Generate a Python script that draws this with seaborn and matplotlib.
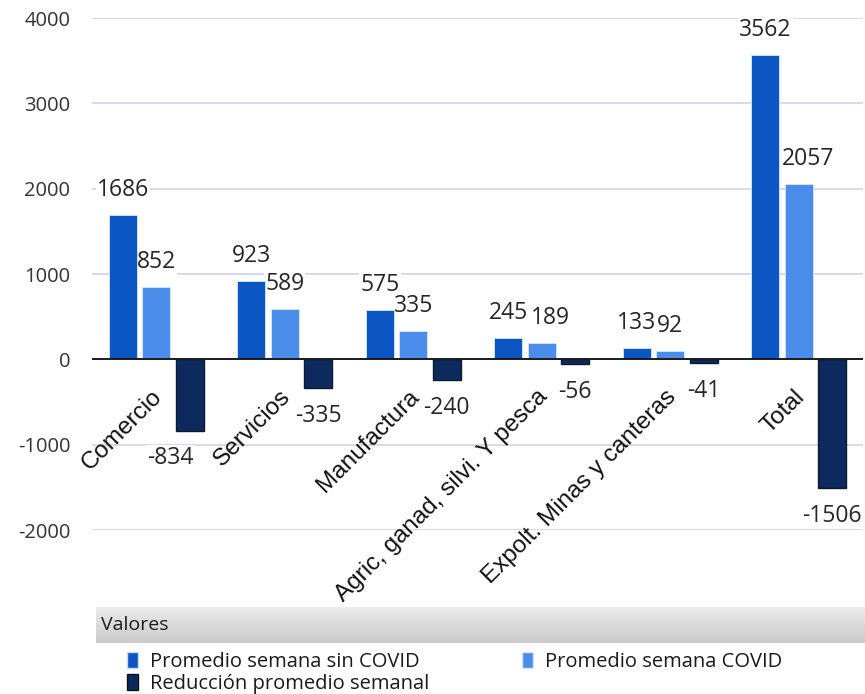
import numpy as np
import pandas as pd
import matplotlib
matplotlib.use("Agg")
import matplotlib.pyplot as plt
import seaborn as sns
from matplotlib.patches import Patch

categories = ["Comercio", "Servicios", "Manufactura",
              "Agric, ganad, silvi. Y pesca", "Expolt. Minas y canteras", "Total"]
series_names = ["Promedio semana sin COVID", "Promedio semana COVID",
                "Reducción promedio semanal"]
sin_covid = [1686, 923, 575, 245, 133, 3562]
con_covid = [852, 589, 335, 189, 92, 2057]
reduccion = [-834, -335, -240, -56, -41, -1506]
y_ticks = [-2000, -1000, 0, 1000, 2000, 3000, 4000]

colors = ["#0B56C2", "#4A8DEB", "#0C2A5E"]

df = pd.DataFrame({
    "cat": categories * 3,
    "serie": [s for s in series_names for _ in categories],
    "valor": sin_covid + con_covid + reduccion,
})

sns.set_theme(style="white")
plt.rcParams["font.family"] = ["Open Sans", "DejaVu Sans"]

fig = plt.figure(figsize=(8.65, 6.94), dpi=100)
ax = fig.add_axes([92 / 865, 1 - 530 / 694, 771 / 865, 512 / 694])

sns.barplot(data=df, x="cat", y="valor", hue="serie", hue_order=series_names,
            order=categories, palette=colors, width=0.78, gap=0.16,
            saturation=1, legend=False, ax=ax)

# edges: navy bars get a dark outline, others a faint one
for i, cont in enumerate(ax.containers):
    for bar in cont:
        bar.set_zorder(2)
        if i == 2:
            bar.set_edgecolor("#111a2a")
            bar.set_linewidth(1.0)
        else:
            bar.set_edgecolor("#dbe6f5")
            bar.set_linewidth(0.6)

ax.set_ylim(-2000, 4000)
ax.set_yticks(y_ticks)
ax.set_yticklabels([str(t) for t in y_ticks], fontsize=14.5, color="#333333")
ax.tick_params(axis="y", length=0, pad=15.5)
ax.set_xlabel("")
ax.set_ylabel("")
ax.set_xticks([])
for s in ax.spines.values():
    s.set_visible(False)
for t in y_ticks:
    if t != 0:
        ax.axhline(t, color="#d8d8ee", lw=1.4, zorder=0)
ax.axhline(0, color="#1a1a1a", lw=1.4, zorder=3)

# category labels hanging from the zero line
for i, c in enumerate(categories):
    ax.annotate(c, xy=(i, 0), xytext=(-4, -19), textcoords="offset points",
                rotation=45, ha="right", va="top", rotation_mode="anchor",
                fontsize=17.5, family=["Liberation Sans", "DejaVu Sans"],
                color="#111111", annotation_clip=False)

# value labels; a few are shifted sideways so they clear their neighbours
label_shift = {(1, 3): 6, (1, 5): 7, (2, 0): -14}
for i, cont in enumerate(ax.containers):
    vals = [sin_covid, con_covid, reduccion][i]
    for j, (bar, v) in enumerate(zip(cont, vals)):
        x = bar.get_x() + bar.get_width() / 2
        dx = label_shift.get((i, j), 0)
        dy = 18 if v >= 0 else -20
        ax.annotate(str(v), xy=(x, v), xytext=(dx, dy), textcoords="offset points",
                    ha="center", va="center", fontsize=16.5, color="#262626",
                    bbox=dict(boxstyle="square,pad=0.05", fc="white", ec="none"),
                    zorder=1, annotation_clip=False)
ax.set_xlim(-0.5, len(categories) - 0.5)

# legend header band with a vertical gray gradient
hax = fig.add_axes([96 / 865, 1 - 643 / 694, (865 - 96) / 865, 36 / 694])
grad = np.linspace(0, 1, 64).reshape(-1, 1)
hax.imshow(grad, aspect="auto", cmap=matplotlib.colors.LinearSegmentedColormap.from_list(
    "hdr", ["#ececec", "#c9c9c9"]), extent=[0, 1, 0, 1])
hax.set_axis_off()
hax.text(0.006, 0.5, "Valores", ha="left", va="center", fontsize=14,
         color="#1a1a1a", transform=hax.transAxes)

handles = [Patch(facecolor=colors[0], edgecolor="#cfd9ee", label=series_names[0]),
           Patch(facecolor=colors[2], edgecolor="#111111", label=series_names[2]),
           Patch(facecolor=colors[1], edgecolor="#d6e4fa", label=series_names[1])]
leg = fig.legend(handles=handles, ncol=2, loc="upper left",
                 bbox_to_anchor=(119 / 865, 1 - 644 / 694), frameon=False,
                 fontsize=14.5, handlelength=0.55, handleheight=0.85,
                 handletextpad=0.6, columnspacing=4.6, labelspacing=0.1,
                 borderaxespad=0)
for t in leg.get_texts():
    t.set_color("#1a1a1a")

fig.savefig("out.png", dpi=100, facecolor="white")
